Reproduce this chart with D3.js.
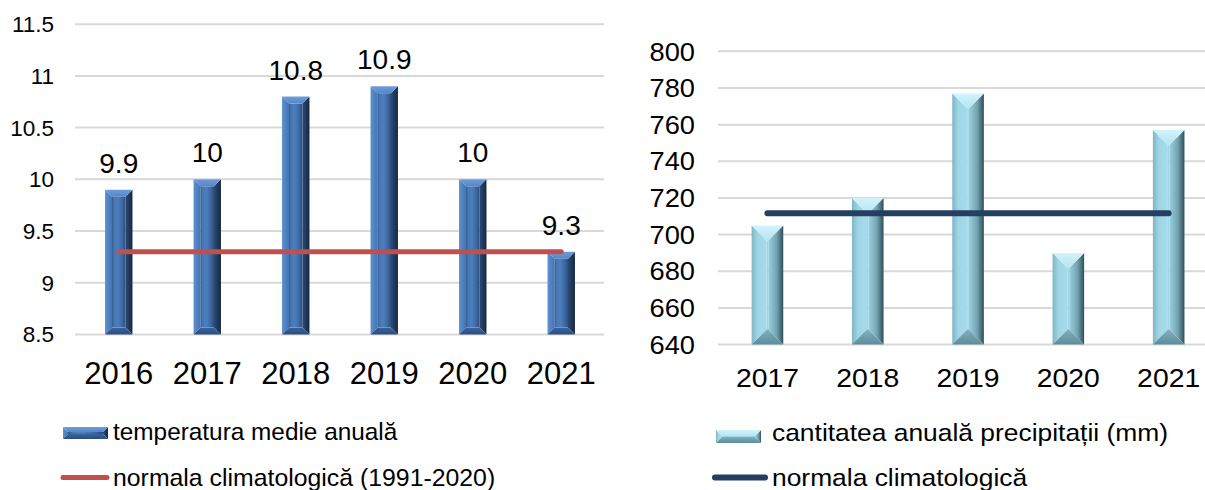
<!DOCTYPE html>
<html>
<head>
<meta charset="utf-8">
<script src="https://cdn.jsdelivr.net/npm/d3@7/dist/d3.min.js"></script>
<style>
  html, body { margin: 0; padding: 0; background: #fff; }
  svg { display: block; font-family: "Liberation Sans", Arial, sans-serif; }
</style>
</head>
<body>
<svg id="chart" width="1205" height="490"></svg>
<script>
// ---- data ----
const tempYears = ["2016", "2017", "2018", "2019", "2020", "2021"];
const tempValues = [9.9, 10, 10.8, 10.9, 10, 9.3];
const tempNormal = 9.3;
const tempTicks = [8.5, 9, 9.5, 10, 10.5, 11, 11.5];
const tempTickLabels = ["8.5", "9", "9.5", "10", "10.5", "11", "11.5"];

const precYears = ["2017", "2018", "2019", "2020", "2021"];
const precValues = [705, 720, 777, 690, 757];
const precNormal = 711.6;
const precTicks = [640, 660, 680, 700, 720, 740, 760, 780, 800];

const legendLeft = ["temperatura medie anuală", "normala climatologică (1991-2020)"];
const legendRight = ["cantitatea anuală precipitații (mm)", "normala climatologică"];

// ---- setup ----
const svg = d3.select("#chart");
const defs = svg.append("defs");

function linGrad(id, stops, x2 = "100%", y2 = "0%") {
  const g = defs.append("linearGradient").attr("id", id)
    .attr("x1", "0%").attr("y1", "0%").attr("x2", x2).attr("y2", y2);
  stops.forEach(s => g.append("stop").attr("offset", s[0]).attr("stop-color", s[1]));
}
// dark blue bar gradients
linGrad("bLeft", [["0%", "#5f90cf"], ["100%", "#4273b2"]]);
linGrad("bRight", [["0%", "#2b4c78"], ["100%", "#16283f"]]);
linGrad("bFace", [["0%", "#2f5788"], ["15%", "#4677b6"], ["45%", "#4c7dbc"], ["80%", "#3a659e"], ["100%", "#2a4b78"]]);
linGrad("bTop", [["0%", "#6d9edc"], ["100%", "#5585c4"]], "0%", "100%");
linGrad("bBot", [["0%", "#3a64a0"], ["100%", "#2b4d7c"]], "0%", "100%");
// light blue bar gradients
linGrad("cLeft", [["0%", "#80b5c4"], ["40%", "#9fd5e5"], ["100%", "#a5dbeb"]]);
linGrad("cRight2", [["0%", "#9ad0e0"], ["55%", "#74a4b2"], ["100%", "#2f4e58"]]);
linGrad("cTop", [["0%", "#d2f3fb"], ["100%", "#b4e5f2"]], "0%", "100%");
linGrad("cBot", [["0%", "#7fb0be"], ["100%", "#5d8c99"]], "0%", "100%");

const darkStyle = { top: "url(#bTop)", bottom: "url(#bBot)", left: "url(#bLeft)", right: "url(#bRight)", face: "url(#bFace)" };
const lightStyle = { top: "url(#cTop)", bottom: "url(#cBot)", left: "url(#cLeft)", right: "url(#cRight2)", face: "#a0d6e6" };

function bevelBar(g, x, y, w, h, b, st) {
  b = Math.min(b, w / 2, h / 2);
  const P = pts => pts.map(p => p.join(",")).join(" ");
  g.append("polygon").attr("points", P([[x, y], [x + b, y + b], [x + b, y + h - b], [x, y + h]])).attr("fill", st.left);
  g.append("polygon").attr("points", P([[x + w, y], [x + w - b, y + b], [x + w - b, y + h - b], [x + w, y + h]])).attr("fill", st.right);
  if (w - 2 * b > 0.01) {
    g.append("rect").attr("x", x + b).attr("y", y + b).attr("width", w - 2 * b).attr("height", Math.max(0, h - 2 * b)).attr("fill", st.face);
  }
  g.append("polygon").attr("points", P([[x, y], [x + w, y], [x + w - b, y + b], [x + b, y + b]])).attr("fill", st.top);
  g.append("polygon").attr("points", P([[x, y + h], [x + w, y + h], [x + w - b, y + h - b], [x + b, y + h - b]])).attr("fill", st.bottom);
}

const gridColor = "#d9d9d9";

// ================= LEFT CHART =================
const L = svg.append("g");
const xL = d3.scaleBand().domain(tempYears).range([74.5, 605.5]).padding(0);
const yL = d3.scaleLinear().domain([8.5, 11.5]).range([334.4, 24.2]);

L.append("g").selectAll("line").data(tempTicks).join("line")
  .attr("x1", 75).attr("x2", 604)
  .attr("y1", d => yL(d)).attr("y2", d => yL(d))
  .attr("stroke", gridColor).attr("stroke-width", 2);

L.append("g").selectAll("text").data(tempTicks).join("text")
  .attr("x", 54).attr("y", d => yL(d) + 8)
  .attr("text-anchor", "end").attr("font-size", 22.5).attr("fill", "#000")
  .text((d, i) => tempTickLabels[i]);

const barWL = xL.bandwidth() * 0.31;
tempYears.forEach((yr, i) => {
  const cx = xL(yr) + xL.bandwidth() / 2;
  const top = yL(tempValues[i]);
  bevelBar(L.append("g"), cx - barWL / 2, top, barWL, yL(8.5) - top, 7, darkStyle);
});

L.append("g").selectAll("text").data(tempYears).join("text")
  .attr("x", d => xL(d) + xL.bandwidth() / 2).attr("y", 384)
  .attr("text-anchor", "middle").attr("font-size", 31).attr("fill", "#000")
  .text(d => d);

L.append("g").selectAll("text").data(tempValues).join("text")
  .attr("x", (d, i) => xL(tempYears[i]) + xL.bandwidth() / 2)
  .attr("y", d => yL(d) - 17)
  .attr("text-anchor", "middle").attr("font-size", 28).attr("fill", "#000")
  .text(d => String(d));

const c0 = xL(tempYears[0]) + xL.bandwidth() / 2;
const c1 = xL(tempYears[tempYears.length - 1]) + xL.bandwidth() / 2;
L.append("line").attr("x1", c0).attr("x2", c1)
  .attr("y1", yL(tempNormal)).attr("y2", yL(tempNormal))
  .attr("stroke", "#c0504d").attr("stroke-width", 5).attr("stroke-linecap", "round");

// legend left
bevelBar(L.append("g"), 63, 427, 45, 12, 5, darkStyle);
L.append("text").attr("font-size", 24)
  .attr("transform", "translate(113,440) scale(1.015,1)").text(legendLeft[0]);
L.append("line").attr("x1", 63).attr("x2", 107).attr("y1", 477.5).attr("y2", 477.5)
  .attr("stroke", "#c0504d").attr("stroke-width", 5).attr("stroke-linecap", "round");
L.append("text").attr("font-size", 24)
  .attr("transform", "translate(113,485.5) scale(1.035,1)").text(legendLeft[1]);

// ================= RIGHT CHART =================
const R = svg.append("g");
const xR = d3.scaleBand().domain(precYears).range([717.3, 1218.8]).padding(0);
const yR = d3.scaleLinear().domain([640, 800]).range([344.6, 51.3]);

R.append("g").selectAll("line").data(precTicks).join("line")
  .attr("x1", 718).attr("x2", 1205)
  .attr("y1", d => yR(d)).attr("y2", d => yR(d))
  .attr("stroke", gridColor).attr("stroke-width", 2);

const sx = 1.07;
R.append("g").selectAll("text").data(precTicks).join("text")
  .attr("text-anchor", "end").attr("font-size", 25.5).attr("fill", "#000")
  .attr("transform", d => `translate(695,${yR(d) + 9.2}) scale(${sx},1)`)
  .text(d => d);

const barWR = xR.bandwidth() * 0.315;
precYears.forEach((yr, i) => {
  const cx = xR(yr) + xR.bandwidth() / 2;
  const top = yR(precValues[i]);
  bevelBar(R.append("g"), cx - barWR / 2, top, barWR, yR(640) - top, 15, lightStyle);
});

R.append("g").selectAll("text").data(precYears).join("text")
  .attr("text-anchor", "middle").attr("font-size", 26.5).attr("fill", "#000")
  .attr("transform", d => `translate(${xR(d) + xR.bandwidth() / 2},387) scale(${sx},1)`)
  .text(d => d);

const d0 = xR(precYears[0]) + xR.bandwidth() / 2;
const d1 = xR(precYears[precYears.length - 1]) + xR.bandwidth() / 2;
R.append("line").attr("x1", d0).attr("x2", d1)
  .attr("y1", yR(precNormal)).attr("y2", yR(precNormal))
  .attr("stroke", "#243f60").attr("stroke-width", 6).attr("stroke-linecap", "round");

// legend right
bevelBar(R.append("g"), 716, 430, 45, 13, 6, lightStyle);
R.append("text").attr("font-size", 24)
  .attr("transform", `translate(772,441) scale(1.1,1)`).text(legendRight[0]);
R.append("line").attr("x1", 715).attr("x2", 765).attr("y1", 477.5).attr("y2", 477.5)
  .attr("stroke", "#243f60").attr("stroke-width", 6).attr("stroke-linecap", "round");
R.append("text").attr("font-size", 24)
  .attr("transform", `translate(772,486) scale(1.1,1)`).text(legendRight[1]);
</script>
</body>
</html>
